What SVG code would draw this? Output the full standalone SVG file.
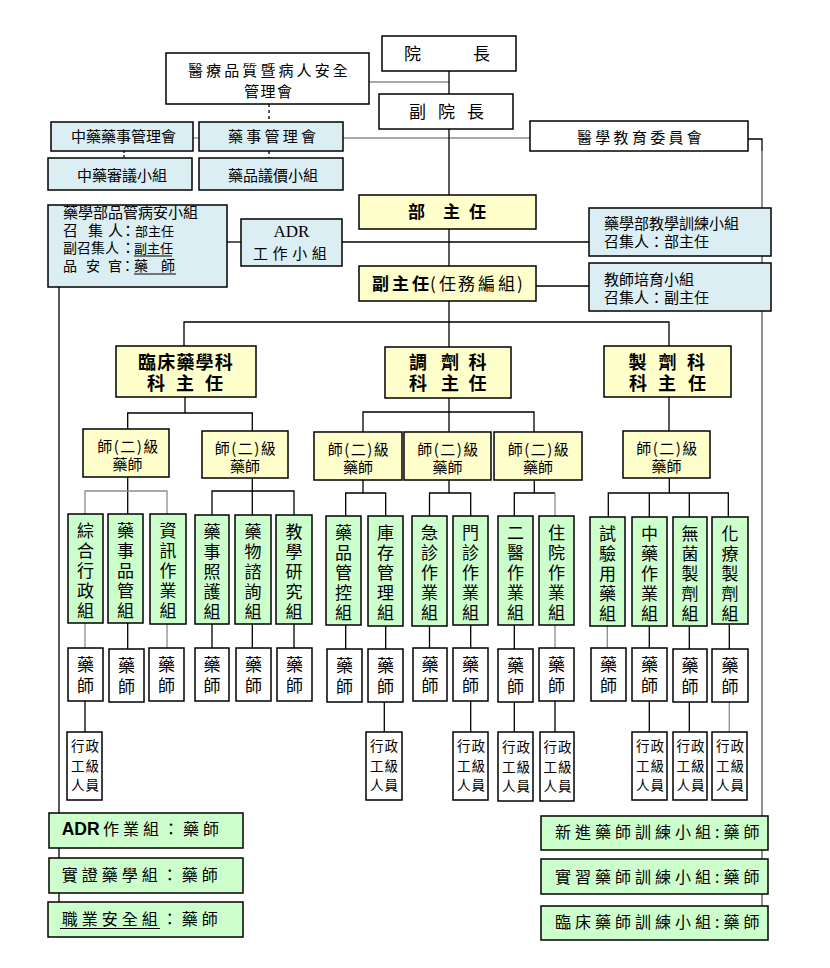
<svg xmlns="http://www.w3.org/2000/svg" width="830" height="968" viewBox="0 0 830 968">
<style>
rect{stroke:#000;stroke-width:1.5}
.w{fill:#fff}.bl{fill:#dbeef4}.y{fill:#ffffcc}.g{fill:#ccffcc}
text{font-family:"Noto Sans CJK TC","Noto Sans CJK SC","Noto Sans",sans-serif;font-size:15px;fill:#000}
.v{font-size:17px;writing-mode:vertical-rl;letter-spacing:3px}
.p{font-size:17px;writing-mode:vertical-rl;letter-spacing:3.8px}
.s{font-size:13.5px;letter-spacing:1px}
.d{font-size:18px;font-weight:bold}
.m{text-anchor:middle}
.q{text-anchor:middle;letter-spacing:1.5px}
#conn line,#conn polyline{stroke:#000;stroke-width:1.3;fill:none}
#conn .gr{stroke:#8c8c8c}
#conn .dk{stroke:#555}
#conn .da{stroke-dasharray:3 3}
.u{stroke:#000;stroke-width:1}
</style>
<g id="conn">
<line class="gr" x1="369" y1="82" x2="449" y2="82"/>
<line x1="449" y1="71" x2="449" y2="94"/>
<line class="da" x1="269" y1="104" x2="269" y2="122"/>
<line class="gr" x1="193" y1="138" x2="199" y2="138"/>
<line class="gr" x1="343" y1="138" x2="530" y2="138"/>
<line class="da" x1="124" y1="151" x2="124" y2="158" style="stroke-dasharray:2 2"/>
<line class="da" x1="269" y1="151" x2="269" y2="158"/>
<line x1="449" y1="129" x2="449" y2="195"/>
<polyline points="748,139 762,139 762,151"/>
<line class="dk" x1="762" y1="151" x2="762" y2="906"/>
<line x1="449" y1="229" x2="449" y2="266"/>
<line x1="227" y1="242" x2="241" y2="242"/>
<line x1="342" y1="242" x2="589" y2="242"/>
<line x1="536" y1="286" x2="589" y2="286"/>
<line x1="449" y1="301" x2="449" y2="347"/>
<polyline points="184,346 184,322 669,322 669,346"/>
<line x1="59" y1="287" x2="59" y2="902"/>
<line x1="185" y1="397" x2="185" y2="413"/>
<polyline points="127.7,429 127.7,413 252.3,413 252.3,431"/>
<line x1="449" y1="398" x2="449" y2="432"/>
<polyline points="363,432 363,412 534,412 534,432"/>
<line x1="669" y1="397" x2="669" y2="431"/>
<line x1="127.7" y1="477" x2="127.7" y2="514"/>
<polyline class="gr" points="85,514 85,491 167,491 167,514"/>
<line x1="252.3" y1="478" x2="252.3" y2="515"/>
<polyline points="212,515 212,491 294,491 294,515"/>
<line x1="363" y1="480" x2="363" y2="493"/>
<polyline points="345.7,516 345.7,493 385.7,493 385.7,516"/>
<line x1="449" y1="480" x2="449" y2="493"/>
<polyline points="429.5,516 429.5,493 470.7,493 470.7,516"/>
<line x1="534.3" y1="480" x2="534.3" y2="493"/>
<polyline points="514.3,516 514.3,493 555,493"/>
<line class="gr" x1="555" y1="493" x2="555" y2="516"/>
<line x1="669.3" y1="478" x2="669.3" y2="493"/>
<polyline points="608.3,517 608.3,493 728.3,493 728.3,517"/>
<line x1="649.3" y1="493" x2="649.3" y2="517"/>
<line x1="689.3" y1="493" x2="689.3" y2="517"/>
<line class="gr" x1="85" y1="623" x2="85" y2="648"/>
<line x1="127.7" y1="623" x2="127.7" y2="649"/>
<line class="gr" x1="167" y1="624" x2="167" y2="648"/>
<line x1="212" y1="624" x2="212" y2="648"/>
<line x1="252.3" y1="624" x2="252.3" y2="648"/>
<line x1="294" y1="624" x2="294" y2="648"/>
<line x1="345.7" y1="625" x2="345.7" y2="649"/>
<line x1="385.7" y1="626" x2="385.7" y2="649"/>
<line x1="429.5" y1="626" x2="429.5" y2="648"/>
<line x1="470.7" y1="625" x2="470.7" y2="648"/>
<line x1="514.3" y1="625" x2="514.3" y2="649"/>
<line class="gr" x1="555" y1="625" x2="555" y2="648"/>
<line class="gr" x1="607.3" y1="626" x2="607.3" y2="648"/>
<line x1="649.3" y1="626" x2="649.3" y2="648"/>
<line x1="689.3" y1="626" x2="689.3" y2="649"/>
<line x1="729.3" y1="624" x2="729.3" y2="649"/>
<line x1="85" y1="701" x2="85" y2="732"/>
<line x1="384.3" y1="702" x2="384.3" y2="732"/>
<line x1="470.7" y1="701" x2="470.7" y2="732"/>
<line x1="514.3" y1="702" x2="514.3" y2="732"/>
<line x1="555" y1="701" x2="555" y2="732"/>
<line x1="649.3" y1="701" x2="649.3" y2="732"/>
<line x1="689.3" y1="702" x2="689.3" y2="732"/>
<line class="gr" x1="729.3" y1="702" x2="729.3" y2="732"/>
</g>

<g id="president"><rect class="w" x="382" y="36" width="134" height="35"/><text style="font-size:17px" x="404 421 473" y="60">院 長</text></g>
<g id="quality"><rect class="w" x="166" y="53" width="203" height="51"/><text x="188" y="75.7" letter-spacing="3.1">醫療品質暨病人安全</text><text x="244" y="97.4" letter-spacing="1.5">管理會</text></g>
<g id="vicepresident"><rect class="w" x="379" y="94" width="134" height="35"/><text style="font-size:17px" x="409 426 438 455 467" y="118">副 院 長</text></g>
<g id="tcm_committee"><rect class="bl" x="51" y="122" width="142" height="29"/><text x="71" y="141.7">中藥藥事管理會</text></g>
<g id="pharm_committee"><rect class="bl" x="199" y="122" width="144" height="29"/><text x="228" y="141.7" letter-spacing="3.25">藥事管理會</text></g>
<g id="tcm_review"><rect class="bl" x="48" y="158" width="144" height="32"/><text x="77" y="180.7">中藥審議小組</text></g>
<g id="price"><rect class="bl" x="199" y="158" width="144" height="32"/><text x="228" y="180.7">藥品議價小組</text></g>
<g id="med_edu"><rect class="w" x="530" y="121" width="218" height="30"/><text x="577" y="143.4" letter-spacing="3.3">醫學教育委員會</text></g>

<g id="quality_group"><rect class="bl" x="48" y="205" width="179" height="82"/>
<text x="63" y="218">藥學部品管病安小組</text>
<text y="236"><tspan x="63 88 108 120.5">召集人：</tspan><tspan x="135" style="font-size:13px">部主任</tspan></text>
<text y="253"><tspan x="63" style="font-size:14px">副召集人</tspan><tspan x="120.5">：</tspan><tspan x="134" style="font-size:13px">副主任</tspan></text>
<line class="u" x1="134" y1="256" x2="172" y2="256"/>
<text y="271" style="font-size:14px" x="63 86 108 120.5 134 161">品安官：藥師</text>
<line class="u" x1="134" y1="274" x2="176" y2="274"/>
</g>
<g id="adr_team"><rect class="bl" x="241" y="219" width="101" height="47"/><text class="m" x="291.5" y="237.3" style="font-family:'Liberation Serif',serif;font-size:17px">ADR</text><text x="253" y="259" letter-spacing="4.6">工作小組</text></g>
<g id="director"><rect class="y" x="359" y="195" width="177" height="34"/><text style="font-size:17px;font-weight:bold" x="408 425 443 460 469" y="218">部 主 任</text></g>
<g id="deputy"><rect class="y" x="359" y="266" width="177" height="35"/><text y="289.5" style="font-size:17px"><tspan x="372 392 412" font-weight="bold">副主任</tspan><tspan x="430 439 458 478 498 517">(任務編組)</tspan></text></g>
<g id="teaching"><rect class="bl" x="589" y="208" width="182" height="48"/><text x="604" y="229">藥學部教學訓練小組</text><text x="604" y="247">召集人：部主任</text></g>
<g id="teacher_dev"><rect class="bl" x="589" y="263" width="182" height="48"/><text x="604" y="285">教師培育小組</text><text x="604" y="303">召集人：副主任</text></g>

<g id="clinical"><rect class="y" x="116" y="346" width="140" height="51"/><text class="d" x="138" y="369.3" letter-spacing="1.2">臨床藥學科</text><text class="d" x="147 165 176 194 205" y="390.3">科 主 任</text></g>
<g id="dispensing"><rect class="y" x="385" y="347" width="126" height="51"/><text class="d" x="409 427 441 459 468.5" y="369.3">調 劑 科</text><text class="d" x="409 427 441 459 468.5" y="390.3">科 主 任</text></g>
<g id="manufacturing"><rect class="y" x="604" y="346" width="127" height="51"/><text class="d" x="628.5 646 658.5 676 687" y="369.3">製 劑 科</text><text class="d" x="629 647 658 676 688" y="390.3">科 主 任</text></g>

<g id="p1"><rect class="y" x="83" y="429" width="86" height="48"/><text class="q" x="128.5" y="452.4">師(二)級</text><text class="m" x="127.5" y="469.7">藥師</text></g>
<g id="p2"><rect class="y" x="202" y="431" width="86" height="47"/><text class="q" x="246" y="454.4">師(二)級</text><text class="m" x="245" y="471.7">藥師</text></g>
<g id="p3"><rect class="y" x="314" y="432" width="88" height="48"/><text class="q" x="359" y="455.4">師(二)級</text><text class="m" x="358" y="472.7">藥師</text></g>
<g id="p4"><rect class="y" x="404" y="432" width="87" height="48"/><text class="q" x="448.5" y="455.4">師(二)級</text><text class="m" x="447.5" y="472.7">藥師</text></g>
<g id="p5"><rect class="y" x="494" y="432" width="88" height="48"/><text class="q" x="539" y="455.4">師(二)級</text><text class="m" x="538" y="472.7">藥師</text></g>
<g id="p6"><rect class="y" x="623" y="431" width="87" height="47"/><text class="q" x="667.5" y="454.4">師(二)級</text><text class="m" x="666.5" y="471.7">藥師</text></g>

<g id="g1"><rect class="g" x="68" y="514" width="35" height="109"/><text class="v" x="85.5" y="522.5">綜合行政組</text></g>
<g id="g2"><rect class="g" x="108" y="514" width="35" height="109"/><text class="v" x="125.5" y="522.5">藥事品管組</text></g>
<g id="g3"><rect class="g" x="150" y="514" width="36" height="110"/><text class="v" x="168" y="522.5">資訊作業組</text></g>
<g id="g4"><rect class="g" x="195" y="515" width="34" height="109"/><text class="v" x="212" y="523.5">藥事照護組</text></g>
<g id="g5"><rect class="g" x="235" y="515" width="36" height="109"/><text class="v" x="253" y="523.5">藥物諮詢組</text></g>
<g id="g6"><rect class="g" x="276" y="515" width="36" height="109"/><text class="v" x="294" y="523.5">教學研究組</text></g>
<g id="g7"><rect class="g" x="326" y="516" width="35" height="109"/><text class="v" x="343.5" y="524.5">藥品管控組</text></g>
<g id="g8"><rect class="g" x="368" y="516" width="35" height="110"/><text class="v" x="385.5" y="524.5">庫存管理組</text></g>
<g id="g9"><rect class="g" x="412" y="516" width="35" height="110"/><text class="v" x="429.5" y="524.5">急診作業組</text></g>
<g id="g10"><rect class="g" x="453" y="516" width="35" height="109"/><text class="v" x="470.5" y="524.5">門診作業組</text></g>
<g id="g11"><rect class="g" x="498" y="516" width="35" height="109"/><text class="v" x="515.5" y="524.5">二醫作業組</text></g>
<g id="g12"><rect class="g" x="539" y="516" width="35" height="109"/><text class="v" x="556.5" y="524.5">住院作業組</text></g>
<g id="g13"><rect class="g" x="590" y="517" width="35" height="109"/><text class="v" x="607.5" y="525.5">試驗用藥組</text></g>
<g id="g14"><rect class="g" x="632" y="517" width="35" height="109"/><text class="v" x="649.5" y="525.5">中藥作業組</text></g>
<g id="g15"><rect class="g" x="673" y="517" width="34" height="109"/><text class="v" x="690" y="525.5">無菌製劑組</text></g>
<g id="g16"><rect class="g" x="712" y="517" width="36" height="107"/><text class="v" x="730" y="525.5">化療製劑組</text></g>

<g id="ph1"><rect class="w" x="68" y="648" width="35" height="53"/><text class="p" x="85.5" y="656.5">藥師</text></g>
<g id="ph2"><rect class="w" x="109" y="649" width="35" height="53"/><text class="p" x="126.5" y="657.5">藥師</text></g>
<g id="ph3"><rect class="w" x="149" y="648" width="35" height="53"/><text class="p" x="166.5" y="656.5">藥師</text></g>
<g id="ph4"><rect class="w" x="195" y="648" width="34" height="53"/><text class="p" x="212" y="656.5">藥師</text></g>
<g id="ph5"><rect class="w" x="236" y="648" width="35" height="53"/><text class="p" x="253.5" y="656.5">藥師</text></g>
<g id="ph6"><rect class="w" x="277" y="648" width="35" height="53"/><text class="p" x="294.5" y="656.5">藥師</text></g>
<g id="ph7"><rect class="w" x="327" y="649" width="35" height="53"/><text class="p" x="344.5" y="657.5">藥師</text></g>
<g id="ph8"><rect class="w" x="368" y="649" width="35" height="53"/><text class="p" x="385.5" y="657.5">藥師</text></g>
<g id="ph9"><rect class="w" x="413" y="648" width="34" height="53"/><text class="p" x="430" y="656.5">藥師</text></g>
<g id="ph10"><rect class="w" x="453" y="648" width="35" height="53"/><text class="p" x="470.5" y="656.5">藥師</text></g>
<g id="ph11"><rect class="w" x="498" y="649" width="35" height="53"/><text class="p" x="515.5" y="657.5">藥師</text></g>
<g id="ph12"><rect class="w" x="539" y="648" width="35" height="53"/><text class="p" x="556.5" y="656.5">藥師</text></g>
<g id="ph13"><rect class="w" x="591" y="648" width="35" height="53"/><text class="p" x="608.5" y="656.5">藥師</text></g>
<g id="ph14"><rect class="w" x="632" y="648" width="35" height="53"/><text class="p" x="649.5" y="656.5">藥師</text></g>
<g id="ph15"><rect class="w" x="673" y="649" width="34" height="53"/><text class="p" x="690" y="657.5">藥師</text></g>
<g id="ph16"><rect class="w" x="712" y="649" width="36" height="53"/><text class="p" x="730" y="657.5">藥師</text></g>

<g id="a1"><rect class="w" x="67" y="732" width="35" height="68"/><text class="s" x="71" y="751">行政</text><text class="s" x="71" y="770.5">工級</text><text class="s" x="71" y="790">人員</text></g>
<g id="a2"><rect class="w" x="366" y="732" width="36" height="68"/><text class="s" x="370" y="751">行政</text><text class="s" x="370" y="770.5">工級</text><text class="s" x="370" y="790">人員</text></g>
<g id="a3"><rect class="w" x="453" y="732" width="35" height="68"/><text class="s" x="457" y="751">行政</text><text class="s" x="457" y="770.5">工級</text><text class="s" x="457" y="790">人員</text></g>
<g id="a4"><rect class="w" x="498" y="732" width="35" height="69"/><text class="s" x="502" y="752">行政</text><text class="s" x="502" y="771.5">工級</text><text class="s" x="502" y="791">人員</text></g>
<g id="a5"><rect class="w" x="540" y="732" width="34" height="69"/><text class="s" x="543.5" y="752">行政</text><text class="s" x="543.5" y="771.5">工級</text><text class="s" x="543.5" y="791">人員</text></g>
<g id="a6"><rect class="w" x="632" y="732" width="35" height="68"/><text class="s" x="636" y="751">行政</text><text class="s" x="636" y="770.5">工級</text><text class="s" x="636" y="790">人員</text></g>
<g id="a7"><rect class="w" x="673" y="732" width="34" height="68"/><text class="s" x="676.5" y="751">行政</text><text class="s" x="676.5" y="770.5">工級</text><text class="s" x="676.5" y="790">人員</text></g>
<g id="a8"><rect class="w" x="712" y="732" width="35" height="68"/><text class="s" x="716" y="751">行政</text><text class="s" x="716" y="770.5">工級</text><text class="s" x="716" y="790">人員</text></g>

<g id="adr_ops"><rect class="g" x="49" y="813" width="194" height="35"/><text y="834.5" style="font-size:16px"><tspan x="61.7" style="font-family:'Liberation Sans',Arial,sans-serif;font-weight:bold;font-size:17.5px">ADR</tspan><tspan x="103" letter-spacing="4">作業組：藥師</tspan></text></g>
<g id="ebm"><rect class="g" x="49" y="858" width="194" height="35"/><text x="61.7" y="881" style="font-size:16px" letter-spacing="4">實證藥學組：藥師</text></g>
<g id="safety"><rect class="g" x="48" y="902" width="195" height="35"/><text x="61.7" y="925.3" style="font-size:16px" letter-spacing="4">職業安全組：藥師</text><line class="u" x1="60" y1="928.5" x2="160" y2="928.5"/></g>
<g id="new_train"><rect class="g" x="541" y="816" width="227" height="34"/><text x="555" y="837.7" style="font-size:16px" letter-spacing="4">新進藥師訓練小組:藥師</text></g>
<g id="intern_train"><rect class="g" x="541" y="859" width="227" height="35"/><text x="555" y="882.7" style="font-size:16px" letter-spacing="4">實習藥師訓練小組:藥師</text></g>
<g id="clin_train"><rect class="g" x="541" y="906" width="227" height="34"/><text x="555" y="927.7" style="font-size:16px" letter-spacing="4">臨床藥師訓練小組:藥師</text></g>
</svg>
